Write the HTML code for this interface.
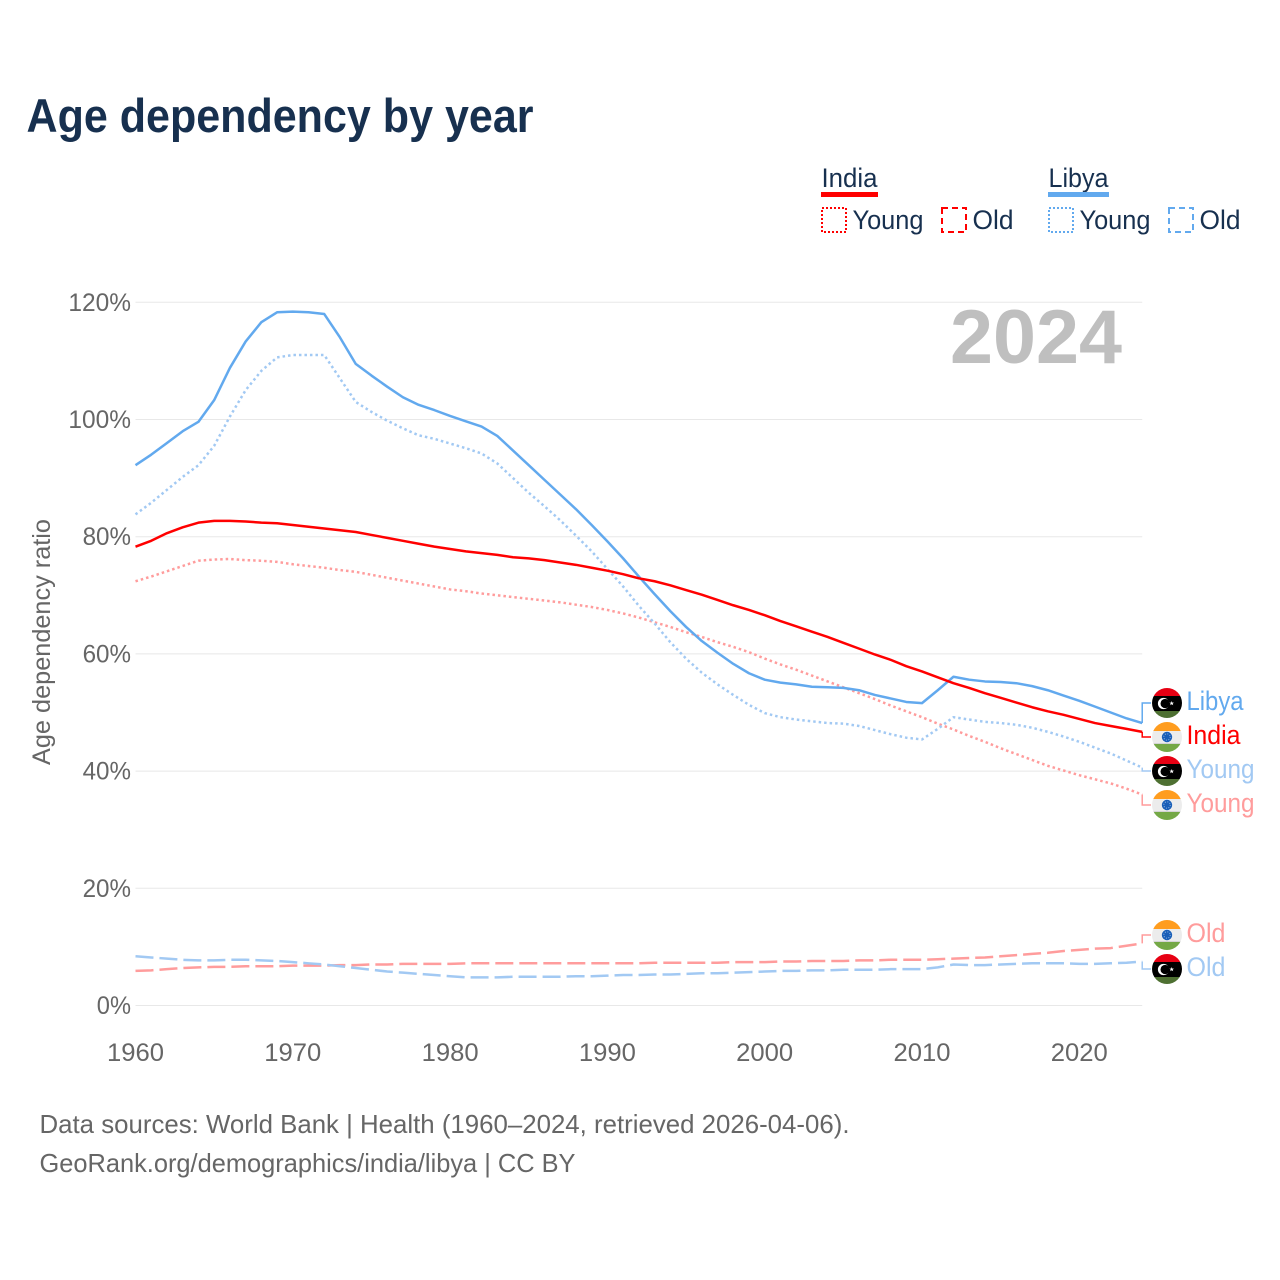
<!DOCTYPE html>
<html lang="en">
<head>
<meta charset="utf-8">
<title>Age dependency by year</title>
<style>
html,body{margin:0;padding:0;background:#fff;width:1280px;height:1280px;overflow:hidden}
svg{display:block}
text{font-family:"Liberation Sans",sans-serif}
</style>
</head>
<body>
<svg id="chart" xmlns="http://www.w3.org/2000/svg" width="1280" height="1280" viewBox="0 0 1280 1280">
  <rect width="1280" height="1280" fill="#fff"/>
  <text x="26.5" y="132" font-size="47" font-weight="700" fill="#17304f" textLength="507" lengthAdjust="spacingAndGlyphs">Age dependency by year</text>

  <g font-size="27" fill="#17304f">
    <g>
      <text x="821.5" y="187" textLength="56" lengthAdjust="spacingAndGlyphs">India</text>
      <rect x="821" y="192" width="57" height="5" fill="#ff0000"/>
    </g>
    <g>
      <rect x="822" y="208" width="24" height="24" fill="none" stroke="#ff0000" stroke-width="2" stroke-dasharray="2 2"/>
      <text x="852.5" y="229" textLength="71" lengthAdjust="spacingAndGlyphs">Young</text>
    </g>
    <g>
      <rect x="942" y="208" width="24" height="24" fill="none" stroke="#ff0000" stroke-width="2" stroke-dasharray="6 4"/>
      <text x="972.5" y="229" textLength="41" lengthAdjust="spacingAndGlyphs">Old</text>
    </g>
    <g>
      <text x="1048.5" y="187" textLength="60" lengthAdjust="spacingAndGlyphs">Libya</text>
      <rect x="1048" y="192" width="61" height="5" fill="#62a9ee"/>
    </g>
    <g>
      <rect x="1049" y="208" width="24" height="24" fill="none" stroke="#62a9ee" stroke-width="2" stroke-dasharray="2 2"/>
      <text x="1079.5" y="229" textLength="71" lengthAdjust="spacingAndGlyphs">Young</text>
    </g>
    <g>
      <rect x="1169" y="208" width="24" height="24" fill="none" stroke="#62a9ee" stroke-width="2" stroke-dasharray="6 4"/>
      <text x="1199.5" y="229" textLength="41" lengthAdjust="spacingAndGlyphs">Old</text>
    </g>
  </g>

  <g id="grid"></g>
  <g id="yticks" font-size="25" fill="#666"></g>
  <g id="xticks" font-size="25" fill="#666"></g>

  <text transform="translate(50,642) rotate(-90)" text-anchor="middle" font-size="25" fill="#666" textLength="246" lengthAdjust="spacingAndGlyphs">Age dependency ratio</text>
  <text x="1122" y="363" text-anchor="end" font-size="76" font-weight="700" fill="#bfbfbf" textLength="172" lengthAdjust="spacingAndGlyphs">2024</text>

  <g id="series" fill="none" stroke-linejoin="round"></g>
  <g id="connectors" fill="none" stroke-width="1.5"></g>

  <defs>
    <clipPath id="flag-clip"><circle cx="0" cy="0" r="15"/></clipPath>
    <g id="flag-libya">
      <g clip-path="url(#flag-clip)">
        <rect x="-15" y="-15" width="30" height="8" fill="#e70013"/>
        <rect x="-15" y="-7" width="30" height="15" fill="#000"/>
        <rect x="-15" y="8" width="30" height="7" fill="#4e7032"/>
        <circle cx="-3.5" cy="0.5" r="5.6" fill="#fff"/>
        <circle cx="-1.9" cy="0.5" r="4.6" fill="#000"/>
        <polygon points="4.7,-2 5.3,-0.4 7,-0.4 5.7,0.6 6.2,2.2 4.7,1.3 3.2,2.2 3.7,0.6 2.4,-0.4 4.1,-0.4" fill="#fff"/>
      </g>
    </g>
    <g id="flag-india">
      <g clip-path="url(#flag-clip)">
        <rect x="-15" y="-15" width="30" height="9" fill="#ff9d1f"/>
        <rect x="-15" y="-6" width="30" height="13" fill="#ececec"/>
        <rect x="-15" y="6" width="30" height="2" fill="#d4d4d4"/>
        <rect x="-15" y="7" width="30" height="8" fill="#74a846"/>
        <circle cx="0" cy="0" r="5.2" fill="#1a5fb8"/>
        <circle cx="0" cy="0" r="3.2" fill="none" stroke="#8fb2de" stroke-width="1" stroke-dasharray="1 1.5"/>
      </g>
    </g>
  </defs>
  <g id="labels" font-size="27"></g>

  <g font-size="26" fill="#666">
    <text x="39.5" y="1133" textLength="810" lengthAdjust="spacingAndGlyphs">Data sources: World Bank | Health (1960–2024, retrieved 2026-04-06).</text>
    <text x="39.5" y="1172" textLength="536" lengthAdjust="spacingAndGlyphs">GeoRank.org/demographics/india/libya | CC BY</text>
  </g>
</svg>

<script>
var startYear = 1960;
var xTickValues = [1960, 1970, 1980, 1990, 2000, 2010, 2020];
var yTickValues = [0, 20, 40, 60, 80, 100, 120];

var libyaTotal = [
  92.2, 94, 96, 98, 99.6, 103.3, 108.8, 113.3, 116.6, 118.3,
  118.4, 118.3, 118, 114, 109.5, 107.5, 105.6, 103.8, 102.5, 101.6,
  100.6, 99.7, 98.8, 97.2, 94.7, 92.2, 89.7, 87.2, 84.7, 82,
  79.2, 76.3, 73.2, 70.2, 67.3, 64.6, 62.2, 60.2, 58.3, 56.7,
  55.6, 55.1, 54.8, 54.4, 54.3, 54.2, 53.8, 53, 52.4, 51.8,
  51.6, 53.8, 56.1, 55.6, 55.3, 55.2, 55, 54.5, 53.8, 52.9,
  52, 51, 50, 49, 48.2
];
var libyaYoung = [
  83.8, 85.8, 88, 90.2, 92.2, 95.5, 100.5, 105, 108.3, 110.6,
  111, 111, 111, 107, 103, 101.3, 99.8, 98.5, 97.3, 96.7,
  95.9, 95.1, 94.2, 92.5, 90, 87.5, 85.2, 82.8, 80.2, 77.5,
  74.5, 71.5, 68.2, 65.2, 62, 59.2, 56.8, 54.8, 53, 51.3,
  49.9, 49.2, 48.8, 48.5, 48.2, 48.1, 47.7, 47, 46.3, 45.7,
  45.4, 47.2, 49.2, 48.8, 48.4, 48.2, 47.9, 47.4, 46.7, 45.9,
  45, 44, 43, 41.8, 40.6
];
var libyaOld = [
  8.4, 8.2, 8, 7.8, 7.7, 7.7, 7.8, 7.8, 7.7, 7.6,
  7.4, 7.2, 7, 6.7, 6.4, 6.1, 5.8, 5.6, 5.4, 5.2,
  5, 4.8, 4.8, 4.8, 4.9, 4.9, 4.9, 4.9, 5, 5,
  5.1, 5.2, 5.2, 5.3, 5.3, 5.4, 5.5, 5.5, 5.6, 5.7,
  5.8, 5.9, 5.9, 6, 6, 6.1, 6.1, 6.1, 6.2, 6.2,
  6.2, 6.5, 7, 6.9, 6.9, 7, 7.1, 7.2, 7.2, 7.2,
  7.1, 7.1, 7.2, 7.3, 7.5
];
var indiaTotal = [
  78.3, 79.3, 80.6, 81.6, 82.4, 82.7, 82.7, 82.6, 82.4, 82.3,
  82, 81.7, 81.4, 81.1, 80.8, 80.3, 79.8, 79.3, 78.8, 78.3,
  77.9, 77.5, 77.2, 76.9, 76.5, 76.3, 76, 75.6, 75.2, 74.7,
  74.2, 73.6, 72.9, 72.4, 71.7, 70.9, 70.1, 69.2, 68.3, 67.5,
  66.6, 65.6, 64.7, 63.8, 62.9, 61.9, 60.9, 59.9, 59, 57.9,
  57, 56, 55, 54.2, 53.3, 52.5, 51.7, 50.9, 50.2, 49.6,
  48.9, 48.2, 47.7, 47.2, 46.7
];
var indiaYoung = [
  72.4, 73.2, 74.1, 75, 75.9, 76.1, 76.2, 76, 75.9, 75.7,
  75.3, 75, 74.7, 74.3, 74, 73.5, 73, 72.5, 72, 71.5,
  71, 70.7, 70.3, 70, 69.7, 69.4, 69.1, 68.8, 68.4, 68,
  67.5, 66.9, 66.2, 65.4, 64.6, 63.7, 62.9, 62, 61.2, 60.3,
  59.2, 58.2, 57.3, 56.3, 55.3, 54.3, 53.3, 52.3, 51.2, 50.2,
  49.2, 48.1, 47.1, 46, 45, 43.9, 42.9, 41.9, 40.9, 40.1,
  39.3, 38.6, 37.9, 37, 36
];
var indiaOld = [
  5.9, 6, 6.2, 6.4, 6.5, 6.6, 6.6, 6.7, 6.7, 6.7,
  6.8, 6.8, 6.8, 6.9, 6.9, 7, 7, 7.1, 7.1, 7.1,
  7.1, 7.2, 7.2, 7.2, 7.2, 7.2, 7.2, 7.2, 7.2, 7.2,
  7.2, 7.2, 7.2, 7.3, 7.3, 7.3, 7.3, 7.3, 7.4, 7.4,
  7.4, 7.5, 7.5, 7.6, 7.6, 7.6, 7.7, 7.7, 7.8, 7.8,
  7.8, 7.9, 8, 8.1, 8.2, 8.4, 8.6, 8.8, 9, 9.3,
  9.5, 9.7, 9.8, 10.2, 10.6
];

var xLeft = 135.5, xPerYear = 15.73, yZero = 1005.5, yPerPct = 5.86;
function xScale(year) { return xLeft + (year - startYear) * xPerYear; }
function yScale(pct) { return yZero - pct * yPerPct; }
var NS = 'http://www.w3.org/2000/svg';
function make(tag) { return document.createElementNS(NS, tag); }

var xEnd = xScale(2024);

yTickValues.forEach(function (t) {
  var line = make('line');
  
  
  line.setAttribute('x1', xLeft);
  line.setAttribute('x2', xEnd);
  line.setAttribute('y1', yScale(t));
  line.setAttribute('y2', yScale(t));
  line.setAttribute('stroke', '#e8e8e8');
  line.setAttribute('stroke-width', '1');
  document.getElementById('grid').appendChild(line);

  var label = make('text');
  
  
  var str = t + '%';
  label.textContent = str;
  label.setAttribute('x', 131);
  label.setAttribute('y', yScale(t) + 8.5);
  label.setAttribute('text-anchor', 'end');
  label.setAttribute('textLength', (str.length - 1) * 14.2 + 20);
  label.setAttribute('lengthAdjust', 'spacingAndGlyphs');
  document.getElementById('yticks').appendChild(label);
});

xTickValues.forEach(function (t) {
  var label = make('text');
  
  
  label.textContent = t;
  label.setAttribute('x', xScale(t));
  label.setAttribute('y', 1061);
  label.setAttribute('text-anchor', 'middle');
  label.setAttribute('textLength', 57);
  label.setAttribute('lengthAdjust', 'spacingAndGlyphs');
  document.getElementById('xticks').appendChild(label);
});

function drawSeries(values, name, color, width, dash) {
  var path = make('path');
  
  
  var d = values.map(function (v, i) {
    return (i ? 'L' : 'M') + xScale(startYear + i).toFixed(2) + ' ' + yScale(v).toFixed(2);
  }).join('');
  path.setAttribute('d', d);
  path.setAttribute('stroke', color);
  path.setAttribute('stroke-width', width);
  if (dash) path.setAttribute('stroke-dasharray', dash);
  document.getElementById('series').appendChild(path);
}

var RED = '#ff0000', BLUE = '#62a9ee', LRED = '#ff9c9c', LBLUE = '#a2c9f3';
var DOT = '2.5 3', DASH = '18 6';
drawSeries(indiaOld, 'line-india-old', LRED, 2.5, DASH);
drawSeries(libyaOld, 'line-libya-old', LBLUE, 2.5, DASH);
drawSeries(indiaYoung, 'line-india-young', LRED, 2.5, DOT);
drawSeries(libyaYoung, 'line-libya-young', LBLUE, 2.5, DOT);
drawSeries(libyaTotal, 'line-libya-total', BLUE, 2.5, null);
drawSeries(indiaTotal, 'line-india-total', RED, 2.5, null);

function drawEnd(values, labelY, flagId, text, color, width) {
  var endY = yScale(values[values.length - 1]);
  var conn = make('path');
  
  
  conn.setAttribute('d', 'M' + xEnd + ' ' + endY + 'L' + xEnd + ' ' + labelY + 'L1151 ' + labelY);
  conn.setAttribute('stroke', color);
  document.getElementById('connectors').appendChild(conn);

  var flag = make('use');
  
  
  flag.setAttribute('href', '#flag-' + flagId);
  flag.setAttribute('transform', 'translate(1167,' + labelY + ')');
  document.getElementById('labels').appendChild(flag);

  var label = make('text');
  
  
  label.textContent = text;
  label.setAttribute('x', 1186.5);
  label.setAttribute('y', labelY + 7);
  label.setAttribute('fill', color);
  label.setAttribute('textLength', width);
  label.setAttribute('lengthAdjust', 'spacingAndGlyphs');
  document.getElementById('labels').appendChild(label);
}

drawEnd(libyaTotal, 703, 'libya', 'Libya', BLUE, 57);
drawEnd(indiaTotal, 737, 'india', 'India', RED, 54);
drawEnd(libyaYoung, 771, 'libya', 'Young', LBLUE, 68);
drawEnd(indiaYoung, 805, 'india', 'Young', LRED, 68);
drawEnd(indiaOld, 935, 'india', 'Old', LRED, 39);
drawEnd(libyaOld, 969, 'libya', 'Old', LBLUE, 39);
</script>
</body>
</html>
